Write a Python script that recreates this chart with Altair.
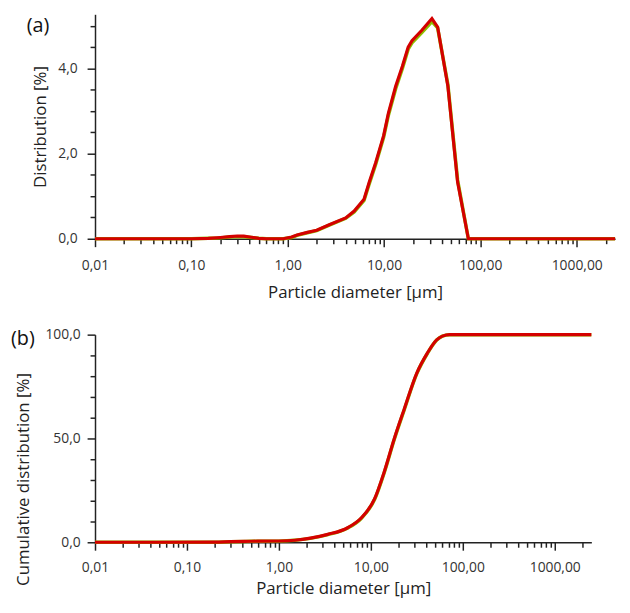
import altair as alt
import pandas as pd

# ---- data ----
psd_size = [0.01, 0.1, 0.15, 0.2, 0.25, 0.3, 0.35, 0.42, 0.5, 0.6, 0.9, 1.1, 1.25, 1.6, 2.0, 2.7,
            4.0, 4.9, 6.2, 7.0, 8.2, 9.9, 11.1, 13.2, 15.5, 17.8, 19.5, 24.8, 31.4, 36, 46, 58, 75, 2500]
psd_red = [0, 0, 0.01, 0.03, 0.05, 0.065, 0.06, 0.035, 0.01, 0, 0, 0.04, 0.09, 0.15, 0.2, 0.33,
           0.49, 0.65, 0.93, 1.32, 1.79, 2.42, 2.95, 3.58, 4.05, 4.5, 4.65, 4.9, 5.17, 4.97, 3.58, 1.33, 0.0, 0]
psd_green = [0, 0, 0.01, 0.02, 0.04, 0.05, 0.045, 0.03, 0.01, 0, 0, 0.03, 0.08, 0.14, 0.19, 0.32,
             0.48, 0.63, 0.9, 1.28, 1.75, 2.38, 2.9, 3.52, 4.0, 4.45, 4.6, 4.85, 5.1, 4.95, 3.62, 1.38, 0.0, 0]

cum_size = [0.01, 0.2, 0.3, 0.5, 1.0, 1.49, 2.2, 3.4, 5.6, 7.9, 11, 14, 18, 23, 31.6, 41, 52, 60, 72, 2500]
cum_red = [0, 0.05, 0.3, 0.5, 0.6, 1.0, 2.0, 3.8, 7, 11.8, 21, 34, 50, 64, 81.5, 91, 97.5, 99.3, 100, 100]
cum_green = [0, 0.04, 0.25, 0.45, 0.55, 0.95, 1.9, 3.7, 6.9, 11.6, 20.7, 33.6, 49.6, 63.6, 81.2, 90.8, 97.4, 99.3, 100, 100]

x_ticks = [m * 10 ** e for e in range(-2, 4) for m in range(1, 10) if m * 10 ** e <= 2500]
y_ticks_a = [i * 0.5 for i in range(0, 11)]
y_ticks_b = [i * 10 for i in range(0, 11)]

RED = "#d40000"
GREEN = "#8cbf00"
FONT = "Open Sans"

is_decade = "abs(log(datum.value)/LN10 - round(log(datum.value)/LN10)) < 0.001"

def x_axis(label_pad, title_pad):
    return alt.Axis(
        values=x_ticks, tickCount=200,
        labelExpr=f"{is_decade} ? replace(format(datum.value, '.2f'), '.', ',') : ''",
        tickSize={"condition": {"test": is_decade, "value": 8}, "value": 5},
        labelOverlap=False, labelFlush=False,
        labelPadding=label_pad, titlePadding=title_pad,
        title="Particle diameter [µm]",
    )

xscale = alt.Scale(type="log", domain=[0.01, 2500], nice=False)

# ---- panel (a) ----
df_a = pd.DataFrame({"d": psd_size, "red": psd_red, "green": psd_green})
ya_axis = alt.Axis(
    values=y_ticks_a, tickCount=200,
    labelExpr="datum.value % 2 == 0 ? replace(format(datum.value, '.1f'), '.', ',') : ''",
    tickSize={"condition": {"test": "datum.value % 2 == 0", "value": 8}, "value": 5},
    labelOverlap=False, labelPadding=10, titlePadding=8,
    title="Distribution [%]",
)
yscale_a = alt.Scale(domain=[0, 5.27], nice=False)

base_a = alt.Chart(df_a)
g_a = base_a.mark_line(color=GREEN, strokeWidth=3.5).encode(
    x=alt.X("d:Q", scale=xscale, axis=x_axis(12, 12)),
    y=alt.Y("green:Q", scale=yscale_a, axis=ya_axis),
)
r_a = base_a.mark_line(color=RED, strokeWidth=3.2).encode(
    x=alt.X("d:Q", scale=xscale),
    y=alt.Y("red:Q", scale=yscale_a),
)
lab_a = alt.Chart(pd.DataFrame({"t": ["(a)"]})).mark_text(
    font=FONT, fontSize=20, align="left", baseline="top", color="#111"
).encode(text="t:N", x=alt.value(-69), y=alt.value(2))

top = alt.layer(g_a, r_a, lab_a).properties(width=526, height=227)

# ---- panel (b) ----
df_b = pd.DataFrame({"d": cum_size, "red": cum_red, "green": cum_green})
yb_axis = alt.Axis(
    values=y_ticks_b, tickCount=200,
    labelExpr="datum.value % 50 == 0 ? replace(format(datum.value, '.1f'), '.', ',') : ''",
    tickSize={"condition": {"test": "datum.value % 50 == 0", "value": 8}, "value": 5},
    labelOverlap=False, labelPadding=7, titlePadding=13, titleY=146,
    title="Cumulative distribution [%]",
)
yscale_b = alt.Scale(domain=[0, 100], nice=False)

base_b = alt.Chart(df_b)
g_b = base_b.mark_line(color=GREEN, strokeWidth=3.5, interpolate="monotone").encode(
    x=alt.X("d:Q", scale=xscale, axis=x_axis(11, 6)),
    y=alt.Y("green:Q", scale=yscale_b, axis=yb_axis),
)
r_b = base_b.mark_line(color=RED, strokeWidth=3.2, interpolate="monotone").encode(
    x=alt.X("d:Q", scale=xscale),
    y=alt.Y("red:Q", scale=yscale_b),
)
lab_b = alt.Chart(pd.DataFrame({"t": ["(b)"]})).mark_text(
    font=FONT, fontSize=20, align="left", baseline="top", color="#111"
).encode(text="t:N", x=alt.value(-85), y=alt.value(-6))

bottom = alt.layer(g_b, r_b, lab_b).properties(width=502, height=210)

chart = alt.vconcat(top, bottom, spacing=97, bounds="flush").properties(
    padding={"left": 3, "top": 0, "right": 0, "bottom": 0},
    background="white",
).configure_view(stroke=None).configure_axis(
    grid=False,
    domainColor="#222", domainWidth=1.5,
    tickColor="#222", tickWidth=1.5,
    labelColor="#333", labelFont=FONT, labelFontSize=14,
    titleColor="#222", titleFont=FONT, titleFontSize=17, titleFontWeight="normal",
)

chart.save("out.html", embed_options={"renderer": "svg", "actions": False})
